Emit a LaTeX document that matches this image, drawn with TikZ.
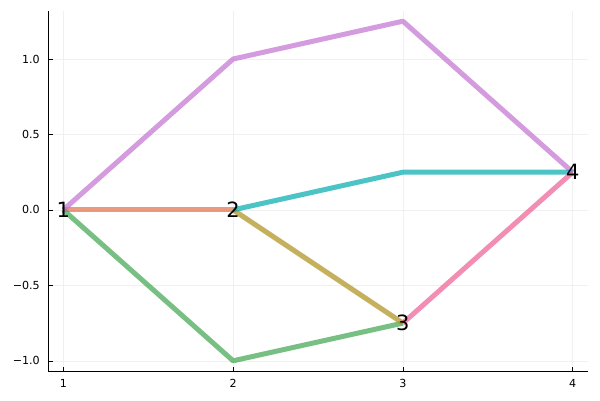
\documentclass[tikz,border=0pt]{standalone}
\usepackage{fontspec}
\setmainfont{DejaVu Sans}
\definecolor{c2}{HTML}{E36F47}
\definecolor{c3}{HTML}{3EA44E}
\definecolor{c4}{HTML}{C271D2}
\definecolor{c5}{HTML}{AC8E18}
\definecolor{c6}{HTML}{00A9AD}
\definecolor{c7}{HTML}{ED5E93}
\begin{document}
\begin{tikzpicture}[x=1pt,y=-1pt,
  edge/.style={line width=5pt, opacity=0.7, line join=round, line cap=butt},
  gridline/.style={draw=black!6, line width=0.5pt},
  spine/.style={draw=black, line width=0.9pt},
  tickmark/.style={draw=black, line width=0.6pt},
  ticklab/.style={font=\fontsize{11.1}{13}\selectfont, inner sep=0pt, text=black},
  lab/.style={font=\fontsize{21}{24}\selectfont, inner sep=0pt, text=black}]
\useasboundingbox (0,0) rectangle (600,400);
% axis frame corners
\coordinate (o) at (48,371);
\coordinate (top) at (48,11);
\coordinate (right) at (588,371);
% grid
\foreach \x in {63.3,233.1,402.9,572.7} {
  \draw[gridline] (\x,11) -- (\x,371);
  \draw[tickmark] (\x,371) -- (\x,366.5);
}
\foreach \y in {59.0,134.4,209.9,285.4,360.8} {
  \draw[gridline] (48,\y) -- (588,\y);
  \draw[tickmark] (48,\y) -- (52.5,\y);
}
\draw[spine] (top) -- (o) -- (right);
% tick labels
\node[ticklab, anchor=east] (y1) at (40,59.0) {1.0};
\node[ticklab, anchor=east] (y2) at (40,134.4) {0.5};
\node[ticklab, anchor=east] (y3) at (40,209.9) {0.0};
\node[ticklab, anchor=east] (y4) at (40,285.4) {−0.5};
\node[ticklab, anchor=east] (y5) at (40,360.8) {−1.0};
\node[ticklab, anchor=north] (x1) at (63.3,379) {1};
\node[ticklab, anchor=north] (x2) at (233.1,379) {2};
\node[ticklab, anchor=north] (x3) at (402.9,379) {3};
\node[ticklab, anchor=north] (x4) at (572.7,379) {4};
% graph points
\coordinate (p1) at (63.3,209.9);
\coordinate (p2) at (233.1,209.9);
\coordinate (p3) at (402.9,323.1);
\coordinate (p4) at (572.7,172.2);
\coordinate (a) at (233.1,59.0);
\coordinate (b) at (402.9,21.2);
\coordinate (c) at (233.1,360.8);
\coordinate (d) at (402.9,172.2);
% edges
\draw[edge, c2] (p1) -- (p2);
\draw[edge, c3] (p1) -- (c) -- (p3);
\draw[edge, c4] (p1) -- (a) -- (b) -- (p4);
\draw[edge, c5] (p2) -- (p3);
\draw[edge, c6] (p2) -- (d) -- (p4);
\draw[edge, c7] (p3) -- (p4);
% node labels
\node[lab] (l1) at (p1) {1};
\node[lab] (l2) at (p2) {2};
\node[lab] (l3) at (p3) {3};
\node[lab] (l4) at (p4) {4};
\end{tikzpicture}
\end{document}
